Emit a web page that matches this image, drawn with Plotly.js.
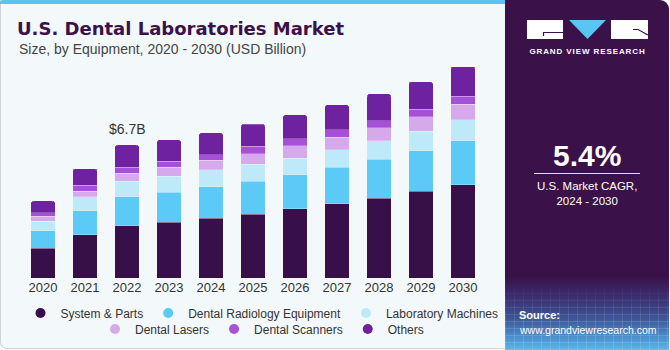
<!DOCTYPE html>
<html><head><meta charset="utf-8">
<script src="https://cdn.plot.ly/plotly-3.0.1.min.js"></script>
<style>
html,body{margin:0;padding:0;width:670px;height:350px;overflow:hidden;background:#fff}
#wrap{position:relative;width:670px;height:350px}
#lp{position:absolute;left:0;top:0;width:508px;height:349px;background:#f3f8fb;border-left:1px solid #cfd3d6;border-bottom:1px solid #cfd3d6;border-radius:0 0 0 7px;box-sizing:border-box}
#strip{position:absolute;left:0;top:0;width:508px;height:4px;background:#5bc5ef;border-radius:3px 0 0 0}
#rp{position:absolute;left:505px;top:0;width:164px;height:350px;border-radius:0 9px 0 0;overflow:hidden;
 background:linear-gradient(to bottom,#3a1249 0%,#3a1249 79%,#3b2a6b 84%,#3d5597 91%,#4a8dcc 96%,#5ab7e7 100%)}
#grid{position:absolute;left:0;top:283px;width:164px;height:67px;
 background-image:repeating-linear-gradient(90deg,rgba(255,255,255,0.13) 0 1px,transparent 1px 9px),repeating-linear-gradient(0deg,rgba(255,255,255,0.13) 0 1px,transparent 1px 7px);
 -webkit-mask-image:linear-gradient(to bottom,transparent,#000 60%);mask-image:linear-gradient(to bottom,transparent,#000 60%)}
#deco{position:absolute;left:0;top:0}
#chart{position:absolute;left:0;top:0;width:670px;height:350px}
</style></head>
<body><div id="wrap">
<div id="lp"></div><div id="strip"></div>
<div id="rp"><div id="grid"></div></div>
<svg id="deco" width="670" height="350">
 <rect x="527" y="20" width="36" height="19" fill="#fff"/>
 <polyline points="543.5,36 543.5,32.5 563,32.5" fill="none" stroke="#3a1249" stroke-width="1.2"/>
 <polygon points="569,20 606,20 587.5,39" fill="#5bc5f2"/>
 <rect x="611" y="20" width="37" height="19" fill="#fff"/>
 <polyline points="633,29.5 638,29.5 648,35" fill="none" stroke="#3a1249" stroke-width="1.2"/>
 <text x="587.5" y="54" text-anchor="middle" fill="#fff" font-family="Liberation Sans, Arial" font-weight="bold" font-size="8" letter-spacing="0.9">GRAND VIEW RESEARCH</text>
 <line x1="534" x2="640" y1="173.5" y2="173.5" stroke="#fff" stroke-opacity="0.85" stroke-width="1"/>
</svg>
<div id="chart"></div>
</div>
<script>
const years = ['2020','2021','2022','2023','2024','2025','2026','2027','2028','2029','2030'];
const seriesNames = ['System & Parts','Dental Radiology Equipment','Laboratory Machines','Dental Lasers','Dental Scanners','Others'];
const systemParts = [1.51,2.19,2.64,2.82,3.02,3.22,3.49,3.74,4.01,4.37,4.70];
const radiology   = [0.87,1.20,1.46,1.50,1.58,1.66,1.71,1.85,1.96,2.05,2.22];
const labMachines = [0.47,0.69,0.77,0.81,0.84,0.84,0.84,0.87,0.94,0.97,1.04];
const lasers      = [0.27,0.29,0.40,0.44,0.49,0.54,0.62,0.64,0.67,0.72,0.79];
const scanners    = [0.17,0.30,0.32,0.32,0.29,0.37,0.35,0.37,0.34,0.40,0.40];
const others      = [0.59,0.84,1.11,1.07,1.09,1.12,1.21,1.26,1.36,1.38,1.50];
const labelYear = '2022';
const labelText = '$6.7B';
const cagrText = '5.4%';

const seriesValues = [systemParts, radiology, labMachines, lasers, scanners, others];
const colors = ['#37104a','#5ccaf6','#bde9f8','#d5a9eb','#a64fd7','#6f22a0'];

const W=670,H=350,L=0,R=150,T=60,B=72;
const pw=W-L-R, ph=H-T-B;
const fx = px => (px-L)/pw;
const fy = py => (H-B-py)/ph;
const step = 42, firstCenter = 43;
const xr0 = -(firstCenter-L)/step, xr1 = xr0 + pw/step;

const traces = [];
seriesValues.forEach((vals,i)=>{
  traces.push({type:'bar', x:years, y:vals, name:seriesNames[i], showlegend:false,
    marker:{color:colors[i], line:{width:0.8, color:'rgba(255,255,255,0.3)'}}, width:0.58,
    hoverinfo:'x+y+name'});
});
seriesValues.forEach((vals,i)=>{
  traces.push({type:'scatter', mode:'markers', x:[years[0]], y:[null], name:seriesNames[i],
    marker:{color:colors[i], size:10, symbol:'circle'}, legend: i<3 ? 'legend' : 'legend2', hoverinfo:'skip'});
});

const idx = years.indexOf(labelYear);
const total = seriesValues.reduce((s,v)=>s+v[idx],0);

const legendFont = {family:'Liberation Sans, Arial', size:12, color:'#333'};
const layout = {
  width:W, height:H, margin:{l:L,r:R,t:T,b:B},
  paper_bgcolor:'rgba(0,0,0,0)', plot_bgcolor:'rgba(0,0,0,0)',
  barmode:'stack', barcornerradius:3,
  title:{text:'<b>U.S. Dental Laboratories Market</b>', xref:'container', yref:'container', x:17/W, xanchor:'left', y:1-29/H, yanchor:'middle',
    font:{family:'DejaVu Sans', size:18, color:'#3a1249'}},
  xaxis:{type:'category', range:[xr0,xr1], showgrid:false, showline:false, zeroline:false, ticks:'',
    tickfont:{family:'Liberation Sans, Arial', size:13, color:'#333'}, fixedrange:true},
  yaxis:{range:[0,10.98], visible:false, fixedrange:true},
  legend:{orientation:'h', traceorder:'normal', x:fx(262), xanchor:'center', y:fy(313), yanchor:'middle', font:legendFont, bgcolor:'rgba(0,0,0,0)', itemwidth:30},
  legend2:{orientation:'h', traceorder:'normal', x:fx(262), xanchor:'center', y:fy(329), yanchor:'middle', font:legendFont, bgcolor:'rgba(0,0,0,0)', itemwidth:30},
  annotations:[
    {xref:'paper', yref:'paper', x:fx(17), y:fy(49), xanchor:'left', yanchor:'middle', showarrow:false,
      text:'Size, by Equipment, 2020 - 2030 (USD Billion)', font:{family:'Liberation Sans, Arial', size:14, color:'#444'}},
    {xref:'x', yref:'y', x:idx, y:total, xanchor:'center', yanchor:'bottom', yshift:6, showarrow:false,
      text:labelText, font:{family:'Liberation Sans, Arial', size:14, color:'#333'}},
    {xref:'paper', yref:'paper', x:fx(587), y:fy(155), xanchor:'center', yanchor:'middle', showarrow:false,
      text:'<b>'+cagrText+'</b>', font:{family:'Liberation Sans, Arial', size:30, color:'#fff'}},
    {xref:'paper', yref:'paper', x:fx(587), y:fy(193.5), xanchor:'center', yanchor:'middle', showarrow:false,
      text:'U.S. Market CAGR,<br>2024 - 2030', font:{family:'Liberation Sans, Arial', size:11.5, color:'#fff'}},
    {xref:'paper', yref:'paper', x:fx(517), y:fy(315), xanchor:'left', yanchor:'middle', showarrow:false,
      text:'<b>Source:</b>', font:{family:'Liberation Sans, Arial', size:11, color:'#fff'}},
    {xref:'paper', yref:'paper', x:fx(517), y:fy(330), xanchor:'left', yanchor:'middle', showarrow:false,
      text:'www.grandviewresearch.com', font:{family:'Liberation Sans, Arial', size:10.5, color:'#fff'}}
  ]
};
Plotly.newPlot('chart', traces, layout, {displayModeBar:false, staticPlot:true});
</script>
</body></html>
